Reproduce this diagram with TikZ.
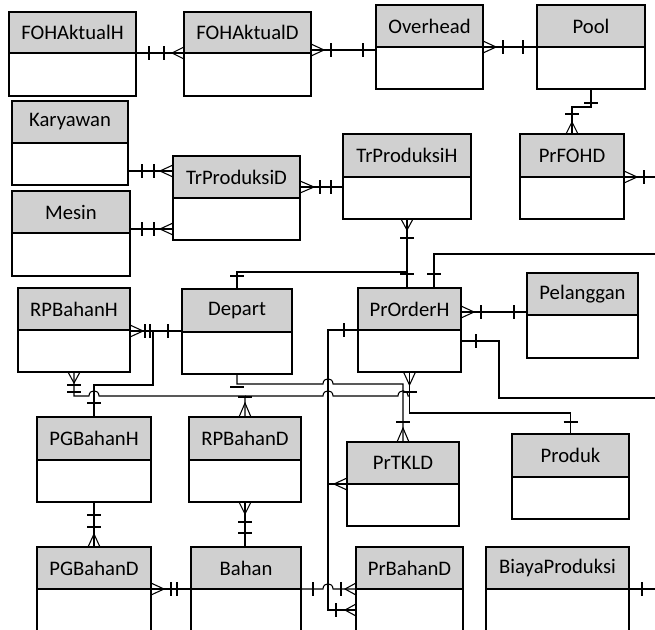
\documentclass[tikz,border=0pt]{standalone}
\usepackage{fontspec}
\setmainfont{Carlito}
\usetikzlibrary{calc}
\definecolor{hdrgray}{RGB}{208,208,208}
\tikzset{
  hdr/.style={draw=black, line width=1.1pt, fill=hdrgray, inner sep=0pt, outer sep=0pt,
    font=\fontsize{15.5}{18}\selectfont, anchor=north west},
  bodybox/.style={draw=black, line width=1.1pt, fill=white, inner sep=0pt, outer sep=0pt,
    anchor=north west},
  conn/.style={draw=black, line width=0.8pt},
}
% entity: name, left, top, right, divider, bottom, title
\newcommand\entity[7]{%
  \node[hdr, minimum width={(#4-#2)*0.75pt}, minimum height={(#5-#3)*0.75pt}] (#1) at (#2,#3) {#7};
  \node[bodybox, minimum width={(#4-#2)*0.75pt}, minimum height={(#6-#5)*0.75pt}] (#1-b) at (#2,#5) {};
}
% tick across a horizontal line (x, y)
\newcommand\tkH[2]{\draw[conn] (#1,#2-7) -- (#1,#2+7);}
% tick across a vertical line (x, y)
\newcommand\tkV[2]{\draw[conn] (#1-7,#2) -- (#1+7,#2);}
% crow's foot on a horizontal line: foot x, apex x, y
\newcommand\cfH[3]{\draw[conn] (#1,#3-6) -- (#2,#3) -- (#1,#3+6);}
% crow's foot on a vertical line: x, foot y, apex y
\newcommand\cfV[3]{\draw[conn] (#1-6,#2) -- (#1,#3) -- (#1+6,#2);}
\begin{document}
\begin{tikzpicture}[x=0.75pt,y=-0.75pt]
\useasboundingbox (0,0) rectangle (655,629);
\clip (0,0) rectangle (655,629);
\fill[white] (0,0) rectangle (655,629);

% entities
\entity{fohh}{9}{12}{136}{53}{96}{FOHAktualH}
\entity{fohd}{184}{12}{311}{53}{96}{FOHAktualD}
\entity{ovh}{376}{5}{483}{47}{89}{Overhead}
\entity{pool}{537}{5}{645}{47}{89}{Pool}
\entity{kary}{12}{101}{128}{143}{185}{Karyawan}
\entity{mesin}{12}{191}{130}{233}{276}{Mesin}
\entity{trpd}{173}{156}{300}{198}{240}{TrProduksiD}
\entity{trph}{343}{134}{471}{177}{219}{TrProduksiH}
\entity{prfohd}{520}{134}{624}{177}{219}{PrFOHD}
\entity{rpbh}{18}{288}{130}{330}{372}{RPBahanH}
\entity{depart}{182}{289}{292}{332}{374}{Depart}
\entity{proh}{358}{288}{461}{330}{372}{PrOrderH}
\entity{pel}{527}{273}{638}{315}{358}{Pelanggan}
\entity{pgbh}{37}{417}{151}{460}{502}{PGBahanH}
\entity{rpbd}{189}{417}{301}{460}{502}{RPBahanD}
\entity{prtkld}{347}{442}{459}{484}{526}{PrTKLD}
\entity{produk}{512}{434}{629}{477}{519}{Produk}
\entity{pgbd}{37}{547}{151}{589}{650}{PGBahanD}
\entity{bahan}{191}{547}{301}{589}{650}{Bahan}
\entity{prbd}{356}{547}{463}{589}{650}{PrBahanD}
\entity{biaya}{486}{547}{629}{589}{650}{BiayaProduksi}

% loose ends leaving the sheet on the right
\coordinate (offA) at (660,177);
\coordinate (offB) at (660,254);
\coordinate (offC) at (660,398);
\coordinate (offD) at (660,589);

% FOHAktualH - FOHAktualD
\draw[conn] (fohh.south east) -- (fohd.south west);
\tkH{149}{53} \tkH{164}{53} \cfH{184}{172}{53}
% FOHAktualD - Overhead
\draw[conn] (fohd.east |- 0,50) -- (ovh.west |- 0,50);
\cfH{311}{324}{50} \tkH{331}{50} \tkH{363}{50}
% Overhead - Pool
\draw[conn] (ovh.south east) -- (pool.south west);
\cfH{483}{496}{47} \tkH{503}{47} \tkH{523}{47}
% Pool - PrFOHD
\draw[conn] (pool-b.south) |- (572,107) -- (prfohd.north);
\tkV{591}{103} \tkV{572}{114} \cfV{572}{134}{122}
% PrFOHD - right
\draw[conn] (prfohd.south east) -- (offA);
\cfH{624}{637}{177} \tkH{644}{177}
% Karyawan - TrProduksiD
\draw[conn] (kary-b.east |- 0,171) -- (trpd.west |- 0,171);
\tkH{142}{171} \tkH{154}{171} \cfH{173}{160}{171}
% Mesin - TrProduksiD
\draw[conn] (mesin.east |- 0,229) -- (trpd-b.west |- 0,229);
\tkH{142}{229} \tkH{154}{229} \cfH{173}{160}{229}
% TrProduksiD - TrProduksiH
\draw[conn] (trpd.east |- 0,187) -- (trph-b.west |- 0,187);
\cfH{300}{314}{187} \tkH{320}{187} \tkH{331}{187}
% TrProduksiH - PrOrderH
\draw[conn] (trph-b.south) -- (trph-b.south |- proh.north);
\cfV{407}{219}{230} \tkV{407}{238} \tkV{407}{274}
% Depart - PrOrderH
\draw[conn] (depart.north) |- (trph-b.south |- 0,272) -- (trph-b.south |- proh.north);
\tkV{237}{276}
% PrOrderH - right (upper)
\draw[conn] (proh.north -| 434,0) |- (offB);
\tkV{434}{274}
% PrOrderH - Pelanggan
\draw[conn] (proh.east |- 0,312) -- (pel.west |- 0,312);
\cfH{461}{474}{312} \tkH{481}{312} \tkH{514}{312}
% PrOrderH - right (lower)
\draw[conn] (proh-b.east |- 0,341) -- (499,341) |- (offC);
\tkH{476}{341}
% PrOrderH - Produk
\draw[conn] (proh-b.south) |- (produk.north |- 0,413) -- (produk.north);
\cfV{409.5}{372}{385} \tkV{409.5}{392} \tkV{570.5}{422}
% PrOrderH - PrTKLD
\draw[conn] (proh.south west) -| (328,484) -- (prtkld.south west);
\tkH{344}{330} \tkH{328}{484} \cfH{347}{334}{484}
% PrOrderH - PrBahanD
\draw[conn] (proh.south west) -| (328,610) -- (prbd-b.west |- 0,610);
\tkH{336}{610} \cfH{356}{345}{610}
% Bahan - PrBahanD
\draw[conn] (bahan.south east) -- (323,589) .. controls (323,582) and (333,582) .. (333,589) -- (prbd.south west);
\tkH{313}{589} \tkH{341}{589} \cfH{356}{345}{589}
% BiayaProduksi - right
\draw[conn] (biaya.south east) -- (offD);
\tkH{642}{589}
% Depart - PrTKLD
\draw[conn] (depart-b.south) |- (323,384) .. controls (323,377) and (333,377) .. (333,384) -| (prtkld.north);
\tkV{237}{387} \tkV{403}{422} \cfV{403}{442}{428}
% RPBahanH - RPBahanD
\draw[conn] (rpbh-b.south) |- (89,396) .. controls (89,389) and (99,389) .. (99,396) -| (rpbd.north);
\cfV{74}{372}{383} \tkV{74}{385} \tkV{74}{392}
\draw[conn, line width=1.6pt] (238,397) -- (252,397);
\cfV{245}{417}{403}
% RPBahanD - PrOrderH
\draw[conn] (rpbd.north |- 0,396) -- (323,396) .. controls (323,389) and (333,389) .. (333,396)
  -- (398,396) .. controls (398,389) and (408,389) .. (408,396) -- (proh-b.south |- 0,396);
% Depart - PGBahanH
\draw[conn] (depart.west |- 0,331) -| (153,385) -| (pgbh.north);
\tkV{94}{403}
% RPBahanH - Depart
\draw[conn] (rpbh-b.east |- 0,331) -- (depart.west |- 0,331);
\cfH{130}{143}{331} \tkH{145}{331} \tkH{150}{331} \tkH{168}{331}
% PGBahanH - PGBahanD
\draw[conn] (pgbh-b.south) -- (pgbd.north);
\tkV{94}{515} \tkV{94}{527} \cfV{94}{547}{534}
% RPBahanD - Bahan
\draw[conn] (rpbd-b.south) -- (rpbd-b.south |- bahan.north);
\cfV{245}{502}{514} \tkV{245}{522} \tkV{245}{533}
% PGBahanD - Bahan
\draw[conn] (pgbd.south east) -- (bahan.south west);
\cfH{151}{164}{589} \tkH{171}{589} \tkH{177}{589}
\end{tikzpicture}
\end{document}
